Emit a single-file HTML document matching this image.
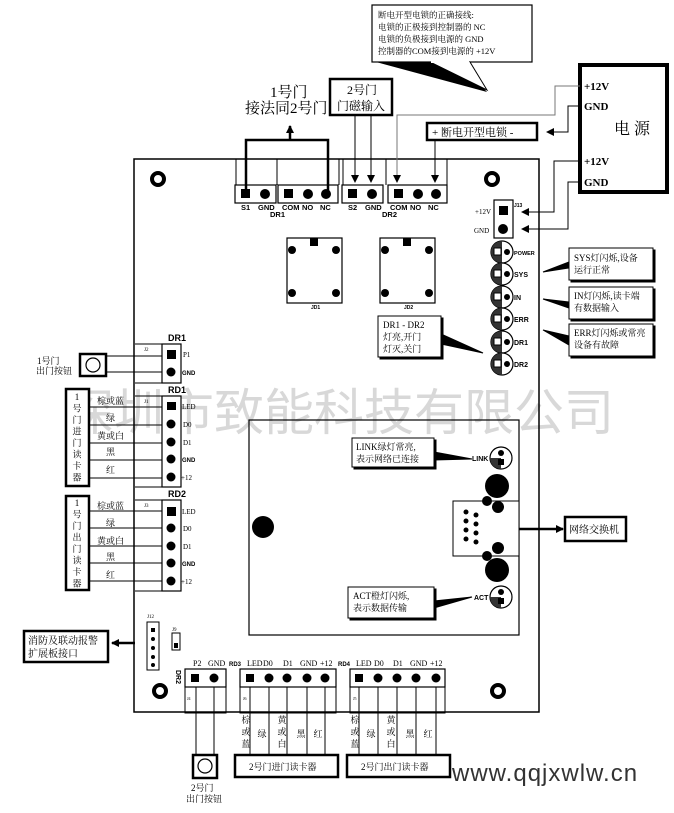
<!DOCTYPE html>
<html><head><meta charset="utf-8"><style>
html,body{margin:0;padding:0;background:#fff;}
svg{display:block;}
text{font-family:"Liberation Serif","Noto Serif CJK SC",serif;fill:#000;}
.s{font-family:"Liberation Sans","Noto Sans CJK SC",sans-serif;font-weight:bold;}
</style></head><body>
<svg width="674" height="813" viewBox="0 0 674 813" xmlns="http://www.w3.org/2000/svg">
<defs>
<marker id="ah" markerWidth="8" markerHeight="8" refX="7" refY="4" orient="auto" markerUnits="userSpaceOnUse"><path d="M0,0 L8,4 L0,8 z" fill="#000"/></marker>
</defs>

<!-- watermark -->
<text x="64" y="430" font-size="50" style="fill:#d8d8d8;font-family:'Noto Sans CJK SC',sans-serif">深圳市致能科技有限公司</text>

<!-- board -->
<rect x="134" y="159" width="405" height="553" fill="none" stroke="#000" stroke-width="1.5"/>
<g fill="none" stroke="#000" stroke-width="4">
<circle cx="158" cy="179" r="6"/><circle cx="492" cy="179" r="6"/>
<circle cx="160" cy="691" r="6"/><circle cx="498" cy="691" r="6"/>
</g>

<!-- top terminals -->
<g stroke="#000" fill="none" stroke-width="1">
<line x1="236" y1="159" x2="236" y2="185"/><line x1="277" y1="159" x2="277" y2="185"/><line x1="339" y1="159" x2="339" y2="185"/>
<line x1="343" y1="159" x2="343" y2="185"/><line x1="386" y1="159" x2="386" y2="185"/><line x1="447" y1="159" x2="447" y2="185"/>
</g>
<g stroke="#000" fill="#fff" stroke-width="1.2">
<rect x="235" y="185" width="41" height="18"/><rect x="278" y="185" width="60" height="18"/>
<rect x="342" y="185" width="41" height="18"/><rect x="388" y="185" width="59" height="18"/>
</g>
<g fill="#000">
<rect x="241" y="189" width="9" height="9"/><circle cx="265" cy="194" r="5"/>
<rect x="284" y="189" width="9" height="9"/><circle cx="308" cy="194" r="5"/><circle cx="326" cy="194" r="5"/>
<rect x="348" y="189" width="9" height="9"/><circle cx="372" cy="194" r="5"/>
<rect x="394" y="189" width="9" height="9"/><circle cx="418" cy="194" r="5"/><circle cx="436" cy="194" r="5"/>
</g>
<g font-size="7.5">
<text x="241" y="210" class="s">S1</text><text x="258" y="210" class="s">GND</text><text x="282" y="210" class="s">COM</text><text x="302" y="210" class="s">NO</text><text x="320" y="210" class="s">NC</text>
<text x="348" y="210" class="s">S2</text><text x="365" y="210" class="s">GND</text><text x="390" y="210" class="s">COM</text><text x="410" y="210" class="s">NO</text><text x="428" y="210" class="s">NC</text>
<text x="270" y="217" class="s">DR1</text><text x="382" y="217" class="s">DR2</text>
</g>

<polyline points="246,193 246,140 328,140 328,193" fill="none" stroke="#000" stroke-width="2.5"/>
<line x1="290" y1="140" x2="290" y2="126" stroke="#000" stroke-width="2.5" marker-end="url(#ah)"/>
<text x="270" y="97" font-size="15">1号门</text>
<text x="245" y="113" font-size="15">接法同2号门</text>

<rect x="330" y="79" width="62" height="36" fill="#fff" stroke="#000" stroke-width="2.5"/>
<text x="347" y="94" font-size="12">2号门</text>
<text x="337" y="110" font-size="12">门磁输入</text>
<line x1="355" y1="115" x2="355" y2="182" stroke="#000" stroke-width="1" marker-end="url(#ah)"/>
<line x1="371" y1="115" x2="371" y2="182" stroke="#000" stroke-width="1" marker-end="url(#ah)"/>

<!-- top callout -->
<polygon points="376,62 487,92 460,62" fill="#000"/>
<rect x="372" y="5" width="160" height="57" fill="#fff" stroke="#000" stroke-width="1.2"/>
<polyline points="430,62 487,90 470,62" fill="#fff" stroke="#000" stroke-width="1"/>
<line x1="431" y1="62" x2="469" y2="62" stroke="#fff" stroke-width="2"/>
<g font-size="8.5">
<text x="378" y="18">断电开型电锁的正确接线:</text>
<text x="378" y="30">电锁的正极接到控制器的 NC</text>
<text x="378" y="42">电锁的负极接到电源的 GND</text>
<text x="378" y="54">控制器的COM接到电源的 +12V</text>
</g>

<!-- power supply -->
<rect x="580" y="65" width="87" height="127" fill="#fff" stroke="#000" stroke-width="4"/>
<g font-size="11" font-weight="bold">
<text x="584" y="90">+12V</text><text x="584" y="110">GND</text>
<text x="584" y="165">+12V</text><text x="584" y="186">GND</text>
</g>
<text x="614" y="134" font-size="16">电 源</text>

<rect x="427" y="123" width="110" height="17" fill="#fff" stroke="#000" stroke-width="2.5"/>
<text x="432" y="136" font-size="11">+ 断电开型电锁 -</text>
<line x1="435" y1="140" x2="435" y2="182" stroke="#000" stroke-width="1" marker-end="url(#ah)"/>
<polyline points="580,106 568,106 568,132 547,132" fill="none" stroke="#000" stroke-width="1" marker-end="url(#ah)"/>
<polyline points="580,86 555,86 555,115 397,115 397,182" fill="none" stroke="#777" stroke-width="1" marker-end="url(#ah)"/>
<polyline points="580,161 554,161 554,212 522,212" fill="none" stroke="#000" stroke-width="1" marker-end="url(#ah)"/>
<polyline points="580,182 568,182 568,229 522,229" fill="none" stroke="#000" stroke-width="1" marker-end="url(#ah)"/>

<rect x="494" y="200" width="19" height="38" fill="#fff" stroke="#000" stroke-width="1.2"/>
<rect x="499" y="206" width="9" height="9" fill="#000"/><circle cx="503" cy="229" r="5" fill="#000"/>
<text x="475" y="214" font-size="7">+12V</text><text x="474" y="233" font-size="7">GND</text>
<text x="514" y="207" font-size="5" class="s">J13</text>

<!-- relays -->
<g stroke="#000" fill="#fff" stroke-width="1.2">
<rect x="287" y="238" width="55" height="65"/><rect x="380" y="238" width="55" height="65"/>
</g>
<g fill="#000">
<rect x="310" y="238" width="8" height="8"/><rect x="403" y="238" width="8" height="8"/>
<circle cx="292" cy="250" r="4"/><circle cx="336" cy="250" r="4"/><circle cx="292" cy="293" r="4"/><circle cx="336" cy="293" r="4"/>
<circle cx="385" cy="250" r="4"/><circle cx="429" cy="250" r="4"/><circle cx="385" cy="293" r="4"/><circle cx="429" cy="293" r="4"/>
</g>
<text x="311" y="309" font-size="5" class="s">JD1</text><text x="404" y="309" font-size="5" class="s">JD2</text>

<!-- LEDs -->
<g transform="translate(502,252)"><circle r="11" fill="#fff" stroke="#000" stroke-width="1.2"/><path d="M0,-11 A11,11 0 0 0 0,11 z" fill="#333"/><rect x="-8" y="-4" width="7" height="7" fill="#fff" stroke="#000"/><circle cx="5" cy="0" r="3" fill="#000"/></g>
<g transform="translate(502,274)"><circle r="11" fill="#fff" stroke="#000" stroke-width="1.2"/><path d="M0,-11 A11,11 0 0 0 0,11 z" fill="#333"/><rect x="-8" y="-4" width="7" height="7" fill="#fff" stroke="#000"/><circle cx="5" cy="0" r="3" fill="#000"/></g>
<g transform="translate(502,297)"><circle r="11" fill="#fff" stroke="#000" stroke-width="1.2"/><path d="M0,-11 A11,11 0 0 0 0,11 z" fill="#333"/><rect x="-8" y="-4" width="7" height="7" fill="#fff" stroke="#000"/><circle cx="5" cy="0" r="3" fill="#000"/></g>
<g transform="translate(502,319)"><circle r="11" fill="#fff" stroke="#000" stroke-width="1.2"/><path d="M0,-11 A11,11 0 0 0 0,11 z" fill="#333"/><rect x="-8" y="-4" width="7" height="7" fill="#fff" stroke="#000"/><circle cx="5" cy="0" r="3" fill="#000"/></g>
<g transform="translate(502,342)"><circle r="11" fill="#fff" stroke="#000" stroke-width="1.2"/><path d="M0,-11 A11,11 0 0 0 0,11 z" fill="#333"/><rect x="-8" y="-4" width="7" height="7" fill="#fff" stroke="#000"/><circle cx="5" cy="0" r="3" fill="#000"/></g>
<g transform="translate(502,364)"><circle r="11" fill="#fff" stroke="#000" stroke-width="1.2"/><path d="M0,-11 A11,11 0 0 0 0,11 z" fill="#333"/><rect x="-8" y="-4" width="7" height="7" fill="#fff" stroke="#000"/><circle cx="5" cy="0" r="3" fill="#000"/></g>
<g font-size="7">
<text x="514" y="255" class="s" font-size="5.5">POWER</text><text x="514" y="277" class="s">SYS</text><text x="514" y="300" class="s">IN</text>
<text x="514" y="322" class="s">ERR</text><text x="514" y="345" class="s">DR1</text><text x="514" y="367" class="s">DR2</text>
</g>

<!-- right callouts -->
<g stroke="#000" stroke-width="1">
<rect x="571" y="250" width="84" height="32" fill="#000"/><rect x="569" y="248" width="84" height="32" fill="#fff"/>
<polygon points="569,262 543,272 569,268" fill="#000"/>
<rect x="571" y="289" width="84" height="32" fill="#000"/><rect x="569" y="287" width="84" height="32" fill="#fff"/>
<polygon points="569,302 543,299 569,308" fill="#000"/>
<rect x="571" y="326" width="84" height="32" fill="#000"/><rect x="569" y="324" width="84" height="32" fill="#fff"/>
<polygon points="569,336 543,330 569,345" fill="#000"/>
<rect x="380" y="318" width="63" height="41" fill="#000"/><rect x="378" y="316" width="63" height="41" fill="#fff"/>
<polygon points="441,334 483,353 441,344" fill="#000"/>
</g>
<g font-size="9">
<text x="574" y="261">SYS灯闪烁,设备</text><text x="574" y="273">运行正常</text>
<text x="574" y="299">IN灯闪烁,读卡端</text><text x="574" y="311">有数据输入</text>
<text x="574" y="336">ERR灯闪烁或常亮</text><text x="574" y="348">设备有故障</text>
<text x="383" y="328">DR1 - DR2</text><text x="383" y="340">灯亮,开门</text><text x="383" y="352">灯灭,关门</text>
</g>

<!-- network module -->
<rect x="249" y="420" width="270" height="215" fill="none" stroke="#000" stroke-width="1.2"/>
<circle cx="263" cy="527" r="11" fill="#000"/>
<circle cx="497" cy="486" r="12" fill="#000"/><circle cx="497" cy="570" r="12" fill="#000"/>
<rect x="453" y="501" width="66" height="55" fill="#fff" stroke="#000" stroke-width="1"/>
<g fill="#000">
<circle cx="487" cy="501" r="5"/><circle cx="498" cy="507" r="6"/><circle cx="487" cy="556" r="5"/><circle cx="498" cy="548" r="6"/>
<circle cx="466" cy="512" r="2.5"/><circle cx="476" cy="515" r="2.5"/><circle cx="466" cy="521" r="2.5"/><circle cx="476" cy="524" r="2.5"/>
<circle cx="466" cy="530" r="2.5"/><circle cx="476" cy="533" r="2.5"/><circle cx="466" cy="539" r="2.5"/><circle cx="476" cy="542" r="2.5"/>
</g>
<g transform="translate(501,458)"><circle r="11" fill="#fff" stroke="#000" stroke-width="1.2"/><path d="M-11,0 A11,11 0 0 0 0,11 L0,0 z" fill="#333"/><circle cx="0" cy="-5" r="3" fill="#000"/><rect x="-3" y="1" width="6" height="6" fill="#000"/></g>
<g transform="translate(501,597)"><circle r="11" fill="#fff" stroke="#000" stroke-width="1.2"/><path d="M-11,0 A11,11 0 0 0 0,11 L0,0 z" fill="#333"/><circle cx="0" cy="-5" r="3" fill="#000"/><rect x="-3" y="1" width="6" height="6" fill="#000"/></g>
<text x="472" y="461" font-size="7" class="s">LINK</text><text x="474" y="600" font-size="7" class="s">ACT</text>
<g stroke="#000" stroke-width="1">
<rect x="354" y="440" width="82" height="29" fill="#000"/><rect x="352" y="438" width="82" height="29" fill="#fff"/>
<polygon points="434,452 472,459 434,460" fill="#000"/>
<rect x="350" y="589" width="86" height="31" fill="#000"/><rect x="348" y="587" width="86" height="31" fill="#fff"/>
<polygon points="434,601 472,597 434,608" fill="#000"/>
</g>
<g font-size="9">
<text x="356" y="450">LINK绿灯常亮,</text><text x="356" y="462">表示网络已连接</text>
<text x="353" y="599">ACT橙灯闪烁,</text><text x="353" y="611">表示数据传输</text>
</g>
<line x1="519" y1="529" x2="563" y2="529" stroke="#000" stroke-width="2.5" marker-end="url(#ah)"/>
<rect x="565" y="517" width="61" height="24" fill="#fff" stroke="#000" stroke-width="2.5"/>
<text x="569" y="533" font-size="10">网络交换机</text>

<!-- left side -->
<g stroke="#000" stroke-width="1" fill="none">
<line x1="135" y1="344" x2="162" y2="344"/><line x1="135" y1="383" x2="162" y2="383"/>
<line x1="106" y1="356" x2="162" y2="356"/><line x1="106" y1="372" x2="162" y2="372"/>
<line x1="135" y1="396" x2="162" y2="396"/><line x1="135" y1="487" x2="162" y2="487"/>
<line x1="135" y1="500" x2="162" y2="500"/><line x1="135" y1="591" x2="162" y2="591"/>
<line x1="89" y1="407" x2="162" y2="407"/><line x1="89" y1="425" x2="162" y2="425"/><line x1="89" y1="443" x2="162" y2="443"/><line x1="89" y1="460" x2="162" y2="460"/><line x1="89" y1="478" x2="162" y2="478"/>
<line x1="89" y1="511" x2="162" y2="511"/><line x1="89" y1="528" x2="162" y2="528"/><line x1="89" y1="546" x2="162" y2="546"/><line x1="89" y1="563" x2="162" y2="563"/><line x1="89" y1="581" x2="162" y2="581"/>
</g>
<g stroke="#000" fill="#fff" stroke-width="1.2">
<rect x="162" y="344" width="19" height="39"/><rect x="162" y="396" width="19" height="91"/><rect x="162" y="500" width="19" height="91"/>
</g>
<g fill="#000">
<rect x="167" y="350" width="9" height="9"/><circle cx="171" cy="372" r="4.5"/>
<rect x="167" y="402" width="9" height="8"/><circle cx="171" cy="424" r="4.5"/><circle cx="171" cy="442" r="4.5"/><circle cx="171" cy="459" r="4.5"/><circle cx="171" cy="477" r="4.5"/>
<rect x="167" y="507" width="9" height="9"/><circle cx="171" cy="528" r="4.5"/><circle cx="171" cy="546" r="4.5"/><circle cx="171" cy="563" r="4.5"/><circle cx="171" cy="581" r="4.5"/>
</g>
<g font-size="9"><text x="168" y="341" class="s">DR1</text><text x="168" y="393" class="s">RD1</text><text x="168" y="497" class="s">RD2</text></g>
<g font-size="7">
<text x="183" y="357">P1</text><text x="182" y="375" class="s" font-size="6">GND</text>
<text x="182" y="409">LED</text><text x="183" y="427">D0</text><text x="183" y="445">D1</text><text x="182" y="462" class="s" font-size="6">GND</text><text x="181" y="480">+12</text>
<text x="182" y="514">LED</text><text x="183" y="531">D0</text><text x="183" y="549">D1</text><text x="182" y="566" class="s" font-size="6">GND</text><text x="181" y="584">+12</text>
</g>
<text x="144" y="351" font-size="5">J2</text><text x="144" y="403" font-size="5">J1</text><text x="144" y="507" font-size="5">J3</text>
<rect x="80" y="354" width="26" height="22" fill="#fff" stroke="#000" stroke-width="2.5"/>
<circle cx="93" cy="365" r="7" fill="none" stroke="#000" stroke-width="1.2"/>
<text x="37" y="364" font-size="9">1号门</text><text x="36" y="374" font-size="9">出门按钮</text>
<rect x="66" y="389" width="23" height="97" fill="#fff" stroke="#000" stroke-width="2.5"/>
<rect x="66" y="496" width="23" height="94" fill="#fff" stroke="#000" stroke-width="2.5"/>
<g font-size="9" text-anchor="middle">
<text x="77" y="400">1</text><text x="77" y="411.5">号</text><text x="77" y="423">门</text><text x="77" y="434.5">进</text><text x="77" y="446">门</text><text x="77" y="457.5">读</text><text x="77" y="469">卡</text><text x="77" y="480.5">器</text>
<text x="77" y="506">1</text><text x="77" y="517.5">号</text><text x="77" y="529">门</text><text x="77" y="540.5">出</text><text x="77" y="552">门</text><text x="77" y="563.5">读</text><text x="77" y="575">卡</text><text x="77" y="586.5">器</text>
</g>
<g font-size="9">
<text x="97" y="404">棕或蓝</text><text x="106" y="421">绿</text><text x="97" y="439">黄或白</text><text x="106" y="455">黑</text><text x="106" y="473">红</text>
<text x="97" y="509">棕或蓝</text><text x="106" y="526">绿</text><text x="97" y="544">黄或白</text><text x="106" y="560">黑</text><text x="106" y="578">红</text>
</g>

<rect x="147" y="622" width="12" height="48" fill="#fff" stroke="#000" stroke-width="1"/>
<g fill="#000"><rect x="151" y="628" width="4" height="4"/><circle cx="153" cy="639" r="2"/><circle cx="153" cy="648" r="2"/><circle cx="153" cy="657" r="2"/><circle cx="153" cy="665" r="2"/></g>
<text x="147" y="618" font-size="5">J12</text>
<rect x="172" y="633" width="8" height="17" fill="#fff" stroke="#000"/><rect x="174" y="643" width="4" height="5" fill="#000"/>
<text x="172" y="631" font-size="5">J9</text>
<line x1="135" y1="643" x2="112" y2="643" stroke="#000" stroke-width="2.5" marker-end="url(#ah)"/>
<rect x="24" y="631" width="84" height="31" fill="#fff" stroke="#000" stroke-width="2.5"/>
<text x="28" y="644" font-size="10">消防及联动报警</text><text x="28" y="657" font-size="10">扩展板接口</text>

<!-- bottom terminals -->
<g stroke="#000" fill="none" stroke-width="1">
<rect x="185" y="687" width="41" height="26"/><rect x="240" y="687" width="96" height="26"/><rect x="350" y="687" width="95" height="26"/>
<line x1="196" y1="687" x2="196" y2="755"/><line x1="214" y1="687" x2="214" y2="755"/>
<line x1="250" y1="687" x2="250" y2="755"/><line x1="269" y1="687" x2="269" y2="755"/><line x1="287" y1="687" x2="287" y2="755"/><line x1="307" y1="687" x2="307" y2="755"/><line x1="325" y1="687" x2="325" y2="755"/>
<line x1="359" y1="687" x2="359" y2="755"/><line x1="378" y1="687" x2="378" y2="755"/><line x1="397" y1="687" x2="397" y2="755"/><line x1="416" y1="687" x2="416" y2="755"/><line x1="436" y1="687" x2="436" y2="755"/>
</g>
<g stroke="#000" fill="#fff" stroke-width="1.2">
<rect x="185" y="669" width="41" height="18"/><rect x="240" y="669" width="96" height="18"/><rect x="350" y="669" width="95" height="18"/>
</g>
<g fill="#000">
<rect x="191" y="674" width="8" height="8"/><circle cx="214" cy="678" r="4.5"/>
<rect x="246" y="674" width="8" height="8"/><circle cx="269" cy="678" r="4.5"/><circle cx="287" cy="678" r="4.5"/><circle cx="307" cy="678" r="4.5"/><circle cx="325" cy="678" r="4.5"/>
<rect x="355" y="674" width="8" height="8"/><circle cx="378" cy="678" r="4.5"/><circle cx="397" cy="678" r="4.5"/><circle cx="416" cy="678" r="4.5"/><circle cx="436" cy="678" r="4.5"/>
</g>
<g font-size="8">
<text x="193" y="666">P2</text><text x="208" y="666">GND</text><text x="229" y="666" class="s" font-size="6">RD3</text>
<text x="247" y="666">LED</text><text x="263" y="666">D0</text><text x="283" y="666">D1</text><text x="300" y="666">GND</text><text x="320" y="666">+12</text>
<text x="338" y="666" class="s" font-size="6">RD4</text>
<text x="356" y="666">LED</text><text x="374" y="666">D0</text><text x="393" y="666">D1</text><text x="410" y="666">GND</text><text x="430" y="666">+12</text>
</g>
<text x="176" y="670" font-size="7" class="s" transform="rotate(90 176 670)">DR2</text>
<text x="187" y="700" font-size="4">J4</text><text x="243" y="700" font-size="4">J6</text><text x="353" y="700" font-size="4">J5</text>
<g font-size="9" text-anchor="middle">
<text x="246" y="723">棕</text><text x="246" y="735">或</text><text x="246" y="747">蓝</text>
<text x="262" y="737">绿</text>
<text x="282" y="723">黄</text><text x="282" y="735">或</text><text x="282" y="747">白</text>
<text x="301" y="737">黑</text><text x="318" y="737">红</text>
<text x="355" y="723">棕</text><text x="355" y="735">或</text><text x="355" y="747">蓝</text>
<text x="371" y="737">绿</text>
<text x="391" y="723">黄</text><text x="391" y="735">或</text><text x="391" y="747">白</text>
<text x="410" y="737">黑</text><text x="428" y="737">红</text>
</g>
<rect x="193" y="755" width="24" height="23" fill="#fff" stroke="#000" stroke-width="2.5"/>
<circle cx="205" cy="766" r="7" fill="none" stroke="#000" stroke-width="1.2"/>
<text x="191" y="791" font-size="9">2号门</text><text x="186" y="802" font-size="9">出门按钮</text>
<rect x="235" y="755" width="103" height="22" fill="#fff" stroke="#000" stroke-width="2.5"/>
<rect x="347" y="755" width="103" height="22" fill="#fff" stroke="#000" stroke-width="2.5"/>
<text x="249" y="770" font-size="9">2号门进门读卡器</text>
<text x="361" y="770" font-size="9">2号门出门读卡器</text>
<text x="452" y="781" font-size="24" style="fill:#333;font-family:'Liberation Sans',sans-serif" letter-spacing="1">www.qqjxwlw.cn</text>
</svg>
</body></html>
